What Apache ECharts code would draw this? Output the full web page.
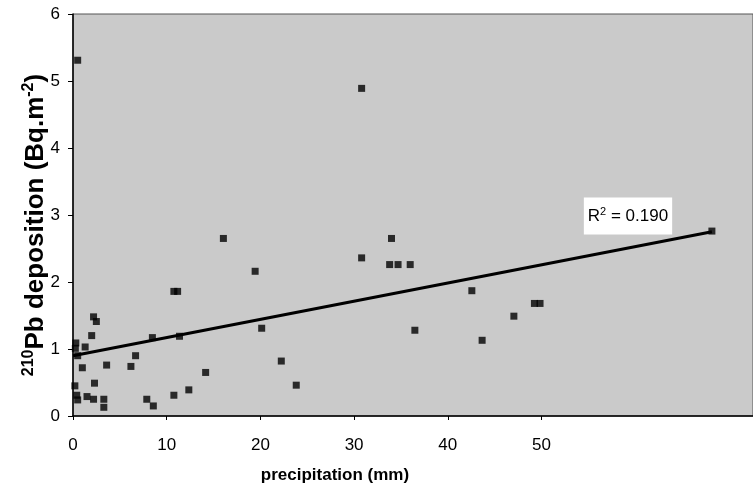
<!DOCTYPE html>
<html>
<head>
<meta charset="utf-8">
<script src="https://cdn.jsdelivr.net/npm/echarts@6/dist/echarts.min.js"></script>
<style>
html, body { margin: 0; padding: 0; background: #fff; }
#main { width: 753px; height: 486px; }
</style>
</head>
<body>
<div id="main"></div>
<script>
// precipitation (mm) and 210Pb deposition (Bq.m-2)
var precip = [0.5, 2.2, 2.5, 2.0, 0.3, 0.25, 0.5, 1.3, 1.0, 3.6, 2.3, 0.2, 0.4, 0.5, 1.5, 2.2, 3.3, 3.3,
    8.5, 11.4, 6.7, 6.2, 14.2, 12.4, 10.8, 7.9, 8.6, 10.8, 11.2, 16.1, 19.5, 30.9, 20.2, 22.3, 23.9,
    30.9, 34.1, 33.9, 34.8, 36.1, 42.7, 49.4, 50.0, 47.2, 36.6, 43.8, 68.4];
var deposition = [5.31, 1.48, 1.41, 1.2, 1.09, 1.01, 0.9, 1.03, 0.72, 0.76, 0.49, 0.45, 0.31, 0.24, 0.29, 0.25, 0.25, 0.13,
    1.17, 1.19, 0.9, 0.74, 0.65, 0.39, 0.31, 0.25, 0.15, 1.86, 1.86, 2.65, 2.16, 2.36, 1.31, 0.82, 0.46,
    4.89, 2.65, 2.26, 2.26, 2.26, 1.87, 1.68, 1.68, 1.49, 1.28, 1.13, 2.76];

// regression line end points
var trendX = [0, 68.4];
var trendY = [0.90, 2.75];
var r2 = '0.190';

var FONT = 'Liberation Sans, Arial, sans-serif';

var points = precip.map(function (x, i) { return [x, deposition[i]]; });
var trend = trendX.map(function (x, i) { return [x, trendY[i]]; });

var myChart = echarts.init(document.getElementById('main'));
var option = {
    animation: false,
    grid: [
        {   // plot area, runs off the right edge like the scan
            left: 73, top: 14, right: -2, height: 402,
            show: true, backgroundColor: '#cacaca', borderColor: '#555', borderWidth: 1
        },
        {   // only carries the 0-50 tick labels
            left: 73, top: 14, width: 468.5, height: 402
        }
    ],
    xAxis: [
        {
            gridIndex: 0, type: 'value', min: 0, max: 72.8, interval: 10,
            axisLine: { show: true, lineStyle: { color: '#000', width: 1.5 } },
            axisTick: { show: false },
            axisLabel: { show: false },
            splitLine: { show: false }
        },
        {
            gridIndex: 1, type: 'value', min: 0, max: 50, interval: 10,
            axisLine: { show: false },
            axisTick: { show: true, length: 4, lineStyle: { color: '#000' } },
            axisLabel: { color: '#000', fontSize: 17, fontFamily: FONT, margin: 21 },
            splitLine: { show: false }
        }
    ],
    yAxis: [
        {
            gridIndex: 0, type: 'value', min: 0, max: 6, interval: 1,
            axisLine: { show: true, lineStyle: { color: '#000', width: 1.5 } },
            axisTick: { show: true, length: 5, lineStyle: { color: '#000' } },
            axisLabel: { color: '#000', fontSize: 17, fontFamily: FONT, margin: 13 },
            splitLine: { show: false }
        },
        { gridIndex: 1, type: 'value', min: 0, max: 6, show: false }
    ],
    series: [
        {
            type: 'line',
            xAxisIndex: 0, yAxisIndex: 0,
            data: trend,
            showSymbol: false,
            lineStyle: { color: '#000', width: 3 },
            z: 2
        },
        {
            type: 'scatter',
            xAxisIndex: 0, yAxisIndex: 0,
            data: points,
            symbol: 'rect',
            symbolSize: 7,
            itemStyle: { color: '#000' },
            z: 3
        }
    ],
    graphic: [
        {
            type: 'text',
            x: 628, y: 216,
            z: 10,
            style: {
                text: '{a|R}{s|2}{a| = ' + r2 + '}',
                align: 'center', verticalAlign: 'middle',
                backgroundColor: '#fff',
                padding: [9, 4, 8, 4],
                rich: {
                    a: { fontSize: 17, fontFamily: FONT, fill: '#000', lineHeight: 20 },
                    s: { fontSize: 11, fontFamily: FONT, fill: '#000', lineHeight: 20, verticalAlign: 'top' }
                }
            }
        },
        {
            type: 'text',
            x: 36, y: 225,
            rotation: Math.PI / 2,
            style: {
                text: '{s|210}{a|Pb deposition (Bq.m}{s|-2}{a|)}',
                align: 'center', verticalAlign: 'middle',
                rich: {
                    a: { fontSize: 26, fontWeight: 'bold', fontFamily: FONT, fill: '#000', lineHeight: 31 },
                    s: { fontSize: 16, fontWeight: 'bold', fontFamily: FONT, fill: '#000', lineHeight: 31, verticalAlign: 'top' }
                }
            }
        },
        {
            type: 'text',
            x: 335, y: 475,
            style: {
                text: 'precipitation (mm)',
                align: 'center', verticalAlign: 'middle',
                font: 'bold 17px ' + FONT,
                fill: '#000'
            }
        }
    ]
};
myChart.setOption(option);
window.addEventListener('resize', function () {
    myChart.resize();
});
</script>
</body>
</html>
